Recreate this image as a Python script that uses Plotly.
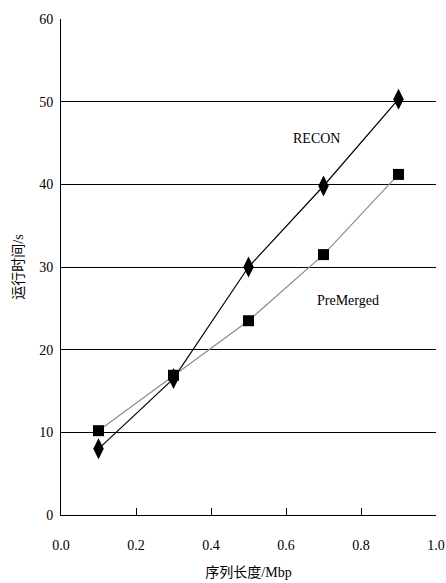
import plotly.graph_objects as go

x_vals = [0.1, 0.3, 0.5, 0.7, 0.9]
recon = [8.0, 16.5, 30.0, 39.8, 50.3]
premerged = [10.2, 16.9, 23.5, 31.5, 41.2]
x_ticks = [0.0, 0.2, 0.4, 0.6, 0.8, 1.0]
y_ticks = [0, 10, 20, 30, 40, 50, 60]

FONT = "Liberation Serif, Noto Sans CJK SC, serif"
NUM_FONT = "Liberation Serif"

fig = go.Figure()
fig.add_trace(go.Scatter(
    x=x_vals, y=premerged, mode="lines+markers", name="PreMerged",
    line=dict(color="#8c8c8c", width=1.2),
    marker=dict(symbol="square", size=11, color="black"),
))
fig.add_trace(go.Scatter(
    x=x_vals, y=recon, mode="lines+markers", name="RECON",
    line=dict(color="black", width=1.2),
    marker=dict(symbol="diamond-tall", size=15, color="black"),
))

fig.add_annotation(x=0.68, y=45.6, text="RECON", showarrow=False,
                   font=dict(family=NUM_FONT, size=14, color="black"))
fig.add_annotation(x=0.765, y=26.0, text="PreMerged", showarrow=False,
                   font=dict(family=NUM_FONT, size=14, color="black"))

fig.update_layout(
    width=446, height=583,
    margin=dict(l=61, r=10, t=19, b=68, autoexpand=False),
    paper_bgcolor="white", plot_bgcolor="white",
    showlegend=False,
    font=dict(family=FONT, size=14, color="black"),
)
fig.update_xaxes(
    range=[0, 1.0], tickvals=x_ticks, ticktext=[f"{v:.1f}" for v in x_ticks],
    tickfont=dict(family=NUM_FONT, size=14, color="black"),
    showline=True, linecolor="black", linewidth=1,
    ticks="inside", ticklen=7, tickcolor="black", ticklabeloverflow="allow",
    showgrid=False, zeroline=False, ticklabelstandoff=17, automargin=False,
    title=dict(text="序列长度/Mbp", font=dict(family=FONT, size=14), standoff=15),
)
fig.update_yaxes(
    range=[0, 60], tickvals=y_ticks,
    tickfont=dict(family=NUM_FONT, size=14, color="black"),
    showline=True, linecolor="black", linewidth=1,
    ticks="", showgrid=True, gridcolor="black", gridwidth=1,
    zeroline=False, ticklabelstandoff=4, automargin=False,
    title=dict(text="运行时间/s", font=dict(family=FONT, size=14), standoff=12),
)

fig.write_html(
    "out.html",
    config={"displayModeBar": False},
    post_script="document.body.style.margin='0';document.body.style.overflow='hidden';",
)
